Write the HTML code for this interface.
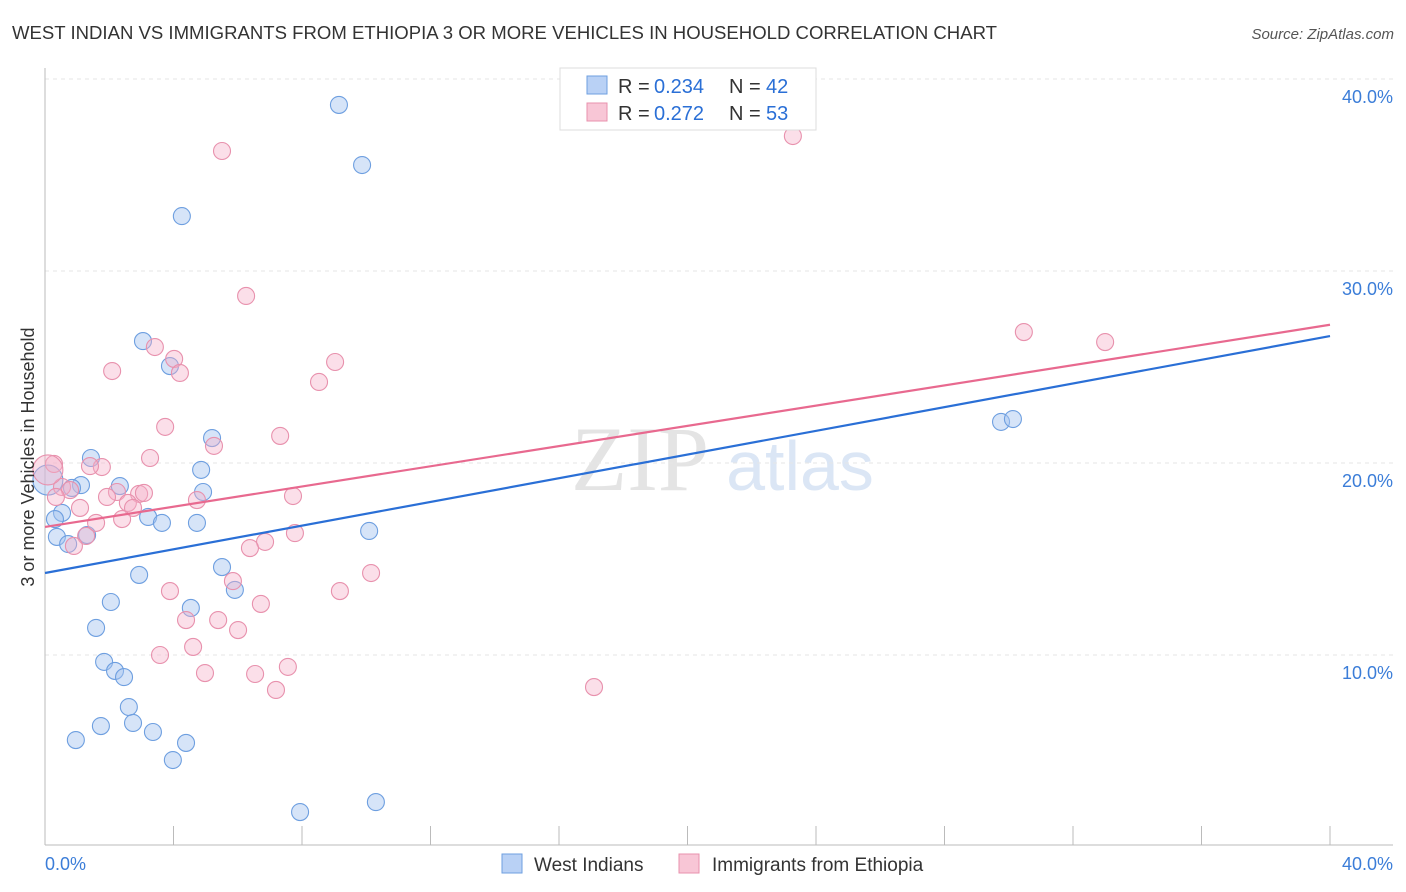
<!DOCTYPE html>
<html><head><meta charset="utf-8"><style>
body{margin:0;background:#fff;font-family:"Liberation Sans",sans-serif;}
svg{display:block}
</style></head><body>
<svg width="1406" height="892" xmlns="http://www.w3.org/2000/svg">
<text x="12" y="39" font-size="18" fill="#333" textLength="985" lengthAdjust="spacingAndGlyphs">WEST INDIAN VS IMMIGRANTS FROM ETHIOPIA 3 OR MORE VEHICLES IN HOUSEHOLD CORRELATION CHART</text>
<text x="1394" y="39" font-size="15" fill="#555" font-style="italic" text-anchor="end">Source: ZipAtlas.com</text>
<text x="640" y="490" font-size="92" fill="#e4e4e4" font-family="Liberation Serif,serif" text-anchor="middle">ZIP</text>
<text x="800" y="490" font-size="70" fill="#dbe6f5" text-anchor="middle">atlas</text>
<g id="grid"></g><g id="axes"></g><g id="marks"></g>
<text transform="translate(34,457) rotate(-90)" font-size="18" fill="#333" text-anchor="middle">3 or more Vehicles in Household</text>
<g>
<rect x="560" y="68" width="256" height="62" fill="#fff" stroke="#ddd"/>
<rect x="587" y="76" width="20" height="18" fill="#b9d1f5" stroke="#6e9fe0"/>
<text x="618" y="93" font-size="20" fill="#333">R =</text><text x="654" y="93" font-size="20" fill="#2a6fd6">0.234</text>
<text x="729" y="93" font-size="20" fill="#333">N =</text><text x="766" y="93" font-size="20" fill="#2a6fd6">42</text>
<rect x="587" y="103" width="20" height="18" fill="#f8c6d6" stroke="#e891ad"/>
<text x="618" y="120" font-size="20" fill="#333">R =</text><text x="654" y="120" font-size="20" fill="#2a6fd6">0.272</text>
<text x="729" y="120" font-size="20" fill="#333">N =</text><text x="766" y="120" font-size="20" fill="#2a6fd6">53</text>
</g>
<g>
<rect x="502" y="854" width="20" height="19" fill="#b9d1f5" stroke="#6e9fe0"/>
<text x="534" y="871" font-size="19" fill="#333">West Indians</text>
<rect x="679" y="854" width="20" height="19" fill="#f8c6d6" stroke="#e891ad"/>
<text x="712" y="871" font-size="19" fill="#333">Immigrants from Ethiopia</text>
</g>
</svg>
<script>
const yTicks=[10,20,30,40];
const yTickLabels=["10.0%","20.0%","30.0%","40.0%"];
const xLabels=["0.0%","40.0%"];
const blueX=[9.15,9.87,4.26,3.05,3.89,5.20,1.43,4.86,1.12,2.33,4.92,0.84,0.09,0.53,0.31,3.21,3.64,4.73,0.37,0.72,1.31,10.09,5.51,2.93,5.91,2.05,4.54,1.59,1.84,2.18,2.46,2.61,1.74,2.74,3.36,0.96,4.39,3.98,7.94,10.30,29.76,30.13];
const blueY=[38.65,35.52,32.86,26.35,25.05,21.30,20.26,19.64,18.85,18.80,18.49,18.70,19.11,17.40,17.08,17.19,16.88,16.88,16.15,15.78,16.25,16.46,14.58,14.17,13.39,12.76,12.45,11.41,9.64,9.17,8.85,7.29,6.30,6.46,5.99,5.57,5.42,4.53,1.82,2.34,22.14,22.29];
const pinkX=[5.51,23.28,6.26,30.47,33.00,3.42,4.02,4.20,2.09,9.03,8.53,3.74,7.32,5.26,3.27,0.28,1.77,1.40,0.53,0.78,2.24,2.93,3.08,1.93,0.34,4.73,7.72,1.09,2.58,2.74,1.59,2.40,1.28,7.78,0.90,6.85,6.38,10.15,5.85,3.89,9.18,6.72,4.39,5.39,6.01,4.61,3.58,7.56,4.98,6.54,7.19,17.09,0.09];
const pinkY=[36.25,37.03,28.70,26.82,26.30,26.04,25.42,24.69,24.79,25.26,24.22,21.88,21.41,20.89,20.26,19.95,19.79,19.84,18.75,18.59,18.49,18.39,18.44,18.23,18.23,18.07,18.28,17.66,17.92,17.66,16.88,17.08,16.20,16.35,15.68,15.89,15.57,14.27,13.85,13.33,13.33,12.66,11.82,11.82,11.30,10.42,10.00,9.38,9.06,9.01,8.18,8.33,19.64];
const blueTrend=[14.27,26.61];
const pinkTrend=[16.67,27.20];
const NS="http://www.w3.org/2000/svg";
const X=v=>45+v/40*1285;
const Y=v=>847-v*19.2;
function mk(tag,attrs,parent){const e=document.createElementNS(NS,tag);for(const k in attrs)e.setAttribute(k,attrs[k]);document.getElementById(parent).appendChild(e);return e;}
yTicks.forEach((t,i)=>{
 let l=mk('line',{x1:45,x2:1393,y1:Y(t),y2:Y(t),stroke:'#e6e6e6','stroke-dasharray':'4,4'},'grid');
 
 
 let tx=mk('text',{x:1393,y:Y(t)+24,'font-size':18,fill:'#3b7dd8','text-anchor':'end'},'axes');tx.textContent=yTickLabels[i];
 
 
});
let ax=mk('line',{x1:45,x2:45,y1:68,y2:845,stroke:'#bbb'},'axes');


let bx=mk('line',{x1:45,x2:1393,y1:845,y2:845,stroke:'#bbb'},'axes');


for(let i=0;i<=10;i++){let t=mk('line',{x1:X(i*4),x2:X(i*4),y1:826,y2:845,stroke:'#bbb'},'axes');
 
 }
[[0,'start',45],[40,'end',1393]].forEach((a,i)=>{let t=mk('text',{x:a[2],y:870,'font-size':18,fill:'#3b7dd8','text-anchor':a[1]},'axes');t.textContent=xLabels[i];
 
 });
function pts(xs,ys,fill,stroke,name){xs.forEach((x,i)=>{
 const big=(name==='point-west-indian'&&i===12)||(name==='point-ethiopia'&&i===52);
 let c=mk('circle',{cx:X(x),cy:Y(ys[i]),r:big?15:8.5,fill:fill,stroke:stroke,'stroke-width':1.1},'marks');
 
 });}
pts(blueX,blueY,'rgba(165,195,240,0.45)','#6e9fe0','point-west-indian');
pts(pinkX,pinkY,'rgba(245,175,200,0.4)','#e891ad','point-ethiopia');
let bl=mk('line',{x1:X(0),x2:X(40),y1:Y(blueTrend[0]),y2:Y(blueTrend[1]),stroke:'#2a6fd6','stroke-width':2.2},'marks');


let pl=mk('line',{x1:X(0),x2:X(40),y1:Y(pinkTrend[0]),y2:Y(pinkTrend[1]),stroke:'#e8698f','stroke-width':2.2},'marks');


</script>
</body></html>
